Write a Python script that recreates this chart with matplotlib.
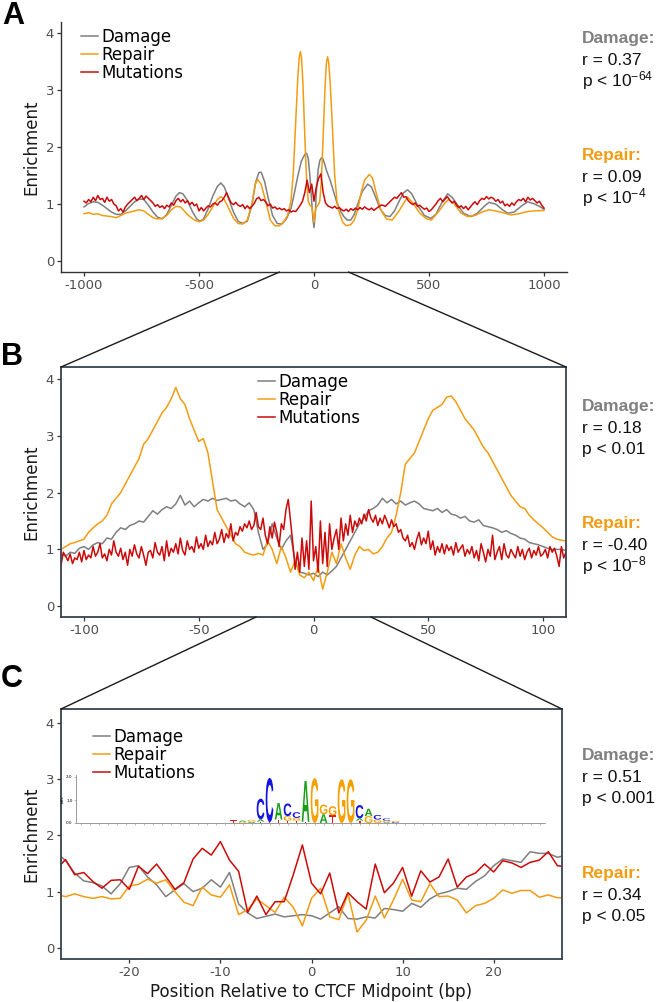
import numpy as np
import matplotlib.pyplot as plt
from matplotlib.patches import ConnectionPatch, PathPatch
from matplotlib.textpath import TextPath
from matplotlib.font_manager import FontProperties
from matplotlib.transforms import Affine2D

plt.rcParams['font.family'] = ['DejaVu Sans']
plt.rcParams['mathtext.default'] = 'regular'
plt.rcParams['axes.unicode_minus'] = False

# colours
c_damage = '#7f7f7f'
c_repair = '#f39c12'
c_mut = '#cd0a0a'
labels = ['Damage', 'Repair', 'Mutations']

# ---------------- panel A data (-1000..1000 bp) ----------------
damage_a_x = [-1000, -980, -960, -940, -920, -900, -880, -860, -840, -820,
              -800, -780, -760, -740, -720, -700, -680, -660, -640, -620,
              -600, -585, -570, -550, -530, -510, -495, -480, -460, -440,
              -420, -405, -390, -370, -350, -330, -310, -290, -270, -255,
              -240, -230, -215, -200, -180, -160, -140, -120, -100, -85,
              -70, -55, -40, -32, -25, -18, -10, -5, 0, 5,
              10, 18, 25, 32, 38, 45, 55, 70, 85, 100,
              115, 130, 145, 160, 175, 190, 210, 233, 250, 270,
              290, 310, 330, 350, 370, 390, 407, 425, 450, 480,
              508, 530, 555, 581, 600, 625, 650, 683, 710, 740,
              760, 790, 820, 842, 870, 900, 929, 960, 980, 1000]
damage_a = [0.95, 1.01, 1.04, 1.03, 0.98, 0.92, 0.86, 0.82, 0.82, 0.88,
            0.96, 1.04, 1.09, 1.08, 0.98, 0.86, 0.77, 0.74, 0.82, 0.98,
            1.14, 1.20, 1.18, 1.06, 0.88, 0.74, 0.70, 0.74, 0.92, 1.14,
            1.31, 1.37, 1.30, 1.08, 0.86, 0.70, 0.66, 0.70, 0.98, 1.36,
            1.55, 1.56, 1.40, 1.12, 0.80, 0.66, 0.65, 0.74, 0.92, 1.20,
            1.50, 1.75, 1.87, 1.89, 1.80, 1.50, 1.05, 0.75, 0.59, 0.80,
            1.20, 1.60, 1.76, 1.81, 1.80, 1.72, 1.58, 1.42, 1.22, 1.02,
            0.88, 0.78, 0.72, 0.72, 0.82, 1.00, 1.22, 1.35, 1.30, 1.10,
            0.90, 0.80, 0.78, 0.88, 1.05, 1.20, 1.25, 1.18, 0.98, 0.80,
            0.75, 0.82, 1.02, 1.18, 1.12, 0.98, 0.84, 0.78, 0.84, 0.96,
            1.03, 1.00, 0.90, 0.84, 0.86, 0.96, 1.04, 1.00, 0.96, 0.91]

repair_a_x = [-1000, -980, -960, -940, -920, -900, -880, -860, -840, -820,
              -800, -780, -760, -740, -720, -700, -680, -660, -640, -620,
              -600, -580, -560, -540, -520, -500, -480, -460, -440, -420,
              -405, -390, -370, -350, -330, -310, -290, -270, -255, -245,
              -230, -210, -190, -170, -150, -130, -115, -100, -90, -80,
              -70, -64, -59, -54, -48, -40, -32, -25, -18, -10,
              -5, 0, 5, 10, 18, 25, 32, 40, 48, 54,
              59, 64, 70, 80, 90, 100, 110, 125, 140, 160,
              175, 190, 205, 220, 241, 255, 270, 290, 315, 340,
              370, 395, 407, 430, 460, 490, 510, 540, 570, 585,
              610, 640, 668, 700, 730, 760, 790, 820, 857, 890,
              929, 960, 1000]
repair_a = [0.83, 0.85, 0.82, 0.83, 0.80, 0.79, 0.78, 0.76, 0.80, 0.84,
            0.86, 0.88, 0.90, 0.88, 0.82, 0.76, 0.74, 0.75, 0.80, 0.90,
            0.96, 0.95, 0.86, 0.78, 0.72, 0.69, 0.72, 0.82, 0.95, 1.08,
            1.13, 1.08, 0.92, 0.75, 0.66, 0.65, 0.72, 1.00, 1.35, 1.43,
            1.35, 1.05, 0.72, 0.62, 0.62, 0.70, 0.80, 1.05, 1.55, 2.40,
            3.25, 3.58, 3.67, 3.55, 3.10, 2.20, 1.40, 1.05, 0.98, 0.95,
            0.85, 0.68, 0.85, 0.95, 0.98, 1.05, 1.40, 2.20, 3.05, 3.48,
            3.58, 3.48, 3.15, 2.35, 1.50, 1.05, 0.85, 0.68, 0.62, 0.64,
            0.72, 0.90, 1.20, 1.42, 1.52, 1.45, 1.20, 0.90, 0.74, 0.72,
            0.88, 1.05, 1.12, 1.02, 0.84, 0.74, 0.72, 0.86, 1.02, 1.08,
            1.00, 0.84, 0.78, 0.80, 0.86, 0.90, 0.88, 0.85, 0.81, 0.83,
            0.87, 0.88, 0.89]

mut_a_x = np.arange(-1000, 1001, 10)
mut_a = [1.05, 1.02, 1.08, 1.04, 1.12, 1.06, 1.15, 1.08, 1.10, 1.03,
         1.12, 1.05, 1.08, 1.00, 0.97, 0.88, 0.92, 0.86, 0.95, 1.00,
         1.04, 1.08, 1.12, 1.06, 1.10, 1.15, 1.08, 1.14, 1.10, 1.06,
         1.02, 0.96, 0.99, 0.94, 0.97, 0.92, 0.98, 0.95, 1.02, 0.98,
         1.06, 1.10, 1.04, 1.08, 1.02, 1.06, 0.99, 1.03, 0.97, 1.00,
         0.88, 0.94, 0.88, 0.93, 0.97, 0.95, 1.00, 1.02, 0.98, 1.04,
         1.06, 1.12, 1.20, 1.10, 1.02, 0.99, 1.03, 0.98, 0.96, 0.99,
         0.92, 0.97, 0.92, 0.96, 1.01, 1.09, 1.12, 1.06, 1.08, 1.04,
         0.97, 1.00, 0.93, 0.95, 0.91, 0.93, 0.90, 0.92, 0.88, 0.90,
         0.86, 0.88, 0.87, 0.92, 0.98, 1.05, 1.20, 1.42, 1.20, 1.35,
         1.05, 1.30, 1.45, 1.53, 1.20, 1.02, 0.97, 0.95, 0.93, 0.96,
         0.92, 0.94, 0.90, 0.88, 0.91, 0.87, 0.92, 0.89, 0.93, 0.90,
         0.94, 0.91, 0.95, 0.92, 0.90, 0.93, 0.89, 0.92, 0.95, 0.98,
         0.98, 0.96, 1.00, 1.04, 1.08, 1.12, 1.10, 1.15, 1.20, 1.12,
         1.13, 1.06, 1.02, 0.99, 1.02, 0.96, 0.98, 0.94, 0.91, 0.93,
         0.87, 0.90, 0.95, 1.00, 1.06, 1.10, 1.04, 1.09, 1.13, 1.07,
         1.02, 1.05, 0.98, 0.94, 0.97, 0.92, 0.96, 0.90, 0.95, 1.00,
         1.04, 0.99, 1.06, 1.10, 1.08, 1.13, 1.09, 1.12, 1.10, 1.05,
         1.08, 1.02, 1.05, 0.97, 1.00, 0.96, 1.02, 0.98, 1.04, 1.08,
         1.06, 1.10, 1.04, 1.12, 1.07, 1.10, 1.06, 1.02, 1.05, 0.98,
         0.93]

# ---------------- panel B data (-110..110 bp) ----------------
b_x2 = np.arange(-110, 111, 2)
damage_b = [0.92, 0.88, 0.95, 0.93, 1.02, 1.05, 1.00, 1.08, 1.12, 1.10,
            1.20, 1.18, 1.30, 1.38, 1.35, 1.42, 1.45, 1.50, 1.48, 1.58,
            1.68, 1.62, 1.70, 1.75, 1.72, 1.80, 1.95, 1.78, 1.85, 1.75,
            1.82, 1.88, 1.85, 1.90, 1.86, 1.88, 1.90, 1.85, 1.87, 1.80,
            1.75, 1.82, 1.70, 1.30, 1.00, 1.10, 1.45, 1.20, 1.00, 1.15,
            1.25, 0.80, 0.60, 0.58, 0.55, 0.58, 0.52, 0.60, 0.55, 0.62,
            0.70, 0.85, 1.00, 1.15, 1.30, 1.45, 1.55, 1.68, 1.72, 1.78,
            1.90, 1.82, 1.88, 1.80, 1.85, 1.78, 1.82, 1.85, 1.80, 1.72,
            1.70, 1.68, 1.72, 1.65, 1.70, 1.62, 1.60, 1.55, 1.58, 1.50,
            1.48, 1.52, 1.42, 1.40, 1.38, 1.35, 1.30, 1.33, 1.28, 1.25,
            1.20, 1.18, 1.12, 1.10, 1.08, 1.05, 1.02, 1.00, 1.00, 1.00,
            0.98]
repair_b = [1.00, 1.05, 1.10, 1.12, 1.15, 1.18, 1.30, 1.38, 1.45, 1.50,
            1.60, 1.80, 1.90, 2.00, 2.15, 2.30, 2.45, 2.60, 2.85, 2.95,
            3.10, 3.25, 3.40, 3.50, 3.65, 3.85, 3.65, 3.55, 3.30, 3.10,
            2.90, 2.95, 2.70, 2.20, 1.70, 1.55, 1.40, 1.25, 1.10, 1.05,
            0.95, 0.92, 0.90, 0.93, 0.90, 1.15, 1.00, 0.75, 1.05, 0.85,
            0.60, 0.80, 0.55, 0.50, 0.60, 0.45, 0.70, 0.30, 0.60, 0.95,
            0.75, 1.10, 0.85, 0.65, 0.90, 1.05, 0.98, 1.00, 0.92, 0.95,
            1.05, 1.20, 1.30, 1.60, 2.00, 2.50, 2.60, 2.70, 2.90, 3.10,
            3.30, 3.45, 3.50, 3.55, 3.68, 3.70, 3.60, 3.45, 3.30, 3.20,
            3.10, 2.95, 2.80, 2.70, 2.55, 2.40, 2.25, 2.10, 1.95, 1.85,
            1.75, 1.72, 1.60, 1.52, 1.45, 1.38, 1.30, 1.22, 1.18, 1.16,
            1.15]
b_x1 = np.arange(-110, 111, 1)
mut_b = [0.72, 0.95, 0.88, 0.80, 0.92, 0.75, 0.85, 0.82, 0.95, 0.78,
         0.98, 0.82, 0.90, 0.85, 1.05, 0.88, 0.95, 1.10, 0.85, 0.92,
         0.80, 1.00, 0.90, 1.15, 0.95, 0.88, 1.02, 0.82, 0.95, 0.72,
         1.00, 0.88, 1.08, 0.92, 0.85, 1.05, 0.90, 0.72, 0.95, 0.98,
         0.85, 1.12, 0.95, 0.90, 1.05, 0.80, 1.15, 0.88, 1.02, 0.95,
         1.10, 0.92, 1.20, 0.98, 0.90, 1.15, 1.00, 1.05, 0.95, 1.22,
         1.02, 1.10, 1.00, 1.25, 1.05, 1.15, 1.08, 1.30, 1.10, 1.18,
         1.35, 1.12, 1.28, 1.20, 1.45, 1.15, 1.30, 1.25, 1.40, 1.32,
         1.45, 1.38, 1.50, 1.35, 1.42, 1.65, 1.40, 1.35, 1.55, 1.25,
         1.10, 1.40, 1.20, 1.48, 1.30, 1.05, 1.45, 1.35, 1.70, 1.88,
         1.50, 1.10, 0.65, 0.95, 0.60, 1.20, 0.70, 1.15, 0.65, 1.85,
         0.80, 1.05, 0.60, 1.50, 0.75, 1.30, 0.70, 1.45, 1.00, 1.20,
         1.35, 1.00, 1.55, 1.15, 1.45, 1.25, 1.60, 1.30, 1.50, 1.40,
         1.55, 1.45, 1.62, 1.50, 1.70, 1.55, 1.48, 1.60, 1.42, 1.55,
         1.45, 1.60, 1.50, 1.38, 1.52, 1.40, 1.45, 1.30, 1.35, 1.20,
         1.15, 1.25, 1.05, 1.12, 1.00, 1.18, 1.30, 1.08, 1.20, 1.10,
         1.32, 1.00, 1.15, 0.90, 1.05, 0.95, 1.10, 0.92, 1.08, 0.98,
         1.05, 0.90, 1.12, 0.95, 1.02, 1.08, 0.88, 1.00, 0.92, 1.05,
         0.85, 0.98, 0.80, 1.10, 0.95, 0.78, 1.00, 0.88, 1.25, 0.82,
         0.95, 1.05, 0.82, 1.10, 0.90, 0.85, 1.00, 0.92, 0.85, 1.05,
         0.88, 1.00, 0.82, 0.95, 1.02, 0.85, 0.98, 0.90, 1.05, 0.88,
         0.92, 1.00, 0.85, 1.05, 0.95, 1.02, 0.88, 0.70, 1.05, 0.85,
         0.95]

# ---------------- panel C data (-28..28 bp) ----------------
c_x = np.arange(-28, 29)
damage_c = [1.70, 1.55, 1.33, 1.19, 1.16, 1.10, 0.96, 1.14, 1.43, 1.46,
            1.26, 1.12, 0.91, 1.03, 1.14, 1.00, 1.06, 1.21, 1.08, 1.34,
            0.78, 0.62, 0.52, 0.56, 0.60, 0.55, 0.57, 0.59, 0.57, 0.51,
            0.62, 0.73, 0.52, 0.51, 0.55, 0.53, 0.70, 0.68, 0.65, 0.79,
            0.72, 0.87, 0.96, 1.00, 1.06, 1.04, 1.18, 1.28, 1.46, 1.58,
            1.55, 1.52, 1.71, 1.68, 1.68, 1.61, 1.65]
repair_c = [0.95, 0.91, 0.96, 0.91, 0.88, 0.91, 0.87, 0.88, 1.10, 1.13,
            1.22, 1.15, 1.21, 1.00, 0.81, 0.75, 1.08, 0.94, 0.90, 1.12,
            0.59, 0.68, 0.87, 0.75, 0.63, 0.90, 0.72, 0.39, 0.88, 1.06,
            0.55, 0.50, 0.96, 0.28, 0.49, 0.92, 0.53, 0.85, 1.22, 0.85,
            0.82, 1.14, 0.91, 0.92, 0.85, 0.62, 0.75, 0.79, 0.88, 1.03,
            0.97, 1.02, 1.02, 0.90, 0.94, 0.89, 0.89]
mut_c = [1.40, 1.57, 1.30, 1.34, 1.18, 1.06, 1.20, 1.21, 1.04, 1.45,
         1.32, 1.49, 1.27, 1.04, 1.16, 1.58, 1.77, 1.65, 1.89, 1.56,
         1.36, 0.63, 0.92, 0.59, 0.82, 0.82, 1.30, 1.83, 1.15, 0.96,
         1.33, 0.62, 0.98, 0.82, 0.69, 1.49, 0.98, 1.15, 1.43, 0.92,
         1.37, 1.17, 1.26, 1.58, 1.08, 1.26, 1.33, 1.49, 1.35, 1.55,
         1.51, 1.43, 1.52, 1.56, 1.71, 1.46, 1.44]

# CTCF motif logo (position, letters bottom->top, bits)
logo_pos = [18, 19, 20, 21, 22, 23, 24, 25, 26, 27, 28, 29, 30, 31, 32, 33, 34, 35, 36]
logo_letters = ['T', 'GA', 'AG', 'TAC', 'TC', 'TA', 'TGC', 'TGC', 'TA', 'G',
                'AG', 'TG', 'G', 'G', 'TAC', 'GA', 'GC', 'AGC', 'CG']
logo_bits = [[0.12], [0.05, 0.06], [0.05, 0.09], [0.06, 0.1, 0.9], [0.04, 1.92],
             [0.15, 0.72], [0.1, 0.2, 0.55], [0.1, 0.12, 0.25], [0.05, 1.78], [1.95],
             [0.38, 0.42], [0.33, 0.4], [1.9], [1.9], [0.1, 0.1, 0.58],
             [0.3, 0.32], [0.15, 0.2], [0.04, 0.06, 0.1], [0.04, 0.05]]
base_colors = {'A': '#17a017', 'C': '#1414e0', 'G': '#f5a000', 'T': '#e01a1a'}

# statistics text
stat_r = [['0.37', '0.09'], ['0.18', '-0.40'], ['0.51', '0.34']]
stat_p = [['10$^{-64}$', '10$^{-4}$'], ['0.01', '10$^{-8}$'], ['0.001', '0.05']]
stat_base = [[43, 160], [411, 528], [760, 878]]

# ---------------- layout ----------------
W, H = 659, 1002
fig = plt.figure(figsize=(W / 100, H / 100), dpi=100)


def px_axes(l, t, r, b):
    return fig.add_axes([l / W, 1 - b / H, (r - l) / W, (b - t) / H])


axA = px_axes(61, 22, 567, 272)
axB = px_axes(61, 367, 566, 617)
axC = px_axes(61, 709, 562, 959)


def style(ax, box):
    for s in ax.spines.values():
        s.set_color('#36434d' if box else '#333333')
        s.set_linewidth(1.3 if box else 1.0)
    if not box:
        ax.spines['top'].set_visible(False)
        ax.spines['right'].set_visible(False)
    ax.tick_params(length=3, width=0.9, color='#333333', labelsize=9.5,
                   labelcolor='#4d4d4d', pad=2)
    ax.set_yticks([0, 1, 2, 3, 4])
    ax.set_ylabel('Enrichment', fontsize=12, color='#1a1a1a', labelpad=4)


lw = 1.1
axA.plot(damage_a_x, damage_a, color=c_damage, lw=lw, label=labels[0])
axA.plot(repair_a_x, repair_a, color=c_repair, lw=lw, label=labels[1])
axA.plot(mut_a_x, mut_a, color=c_mut, lw=lw, label=labels[2])
axA.set_xlim(-1100, 1100)
axA.set_ylim(-0.19, 4.19)
axA.set_xticks([-1000, -500, 0, 500, 1000])
style(axA, False)

axB.plot(b_x2, damage_b, color=c_damage, lw=lw, label=labels[0])
axB.plot(b_x2, repair_b, color=c_repair, lw=lw, label=labels[1])
axB.plot(b_x1, mut_b, color=c_mut, lw=lw, label=labels[2])
axB.set_xlim(-110, 110)
axB.set_ylim(-0.19, 4.21)
axB.set_xticks([-100, -50, 0, 50, 100])
style(axB, True)

axC.plot(c_x, damage_c, color=c_damage, lw=lw, label=labels[0])
axC.plot(c_x, repair_c, color=c_repair, lw=lw, label=labels[1])
axC.plot(c_x, mut_c, color=c_mut, lw=lw, label=labels[2])
axC.set_xlim(-27.5, 27.5)
axC.set_ylim(-0.2, 4.25)
axC.set_xticks([-20, -10, 0, 10, 20])
style(axC, True)
axC.set_xlabel('Position Relative to CTCF Midpoint (bp)', fontsize=12,
               color='#1a1a1a', labelpad=3)

for ax, anchor in [(axA, (0.04, 0.975)), (axB, (0.39, 0.975)), (axC, (0.064, 0.926))]:
    ax.legend(loc='upper left', bbox_to_anchor=anchor, frameon=False, fontsize=12,
              borderaxespad=0, borderpad=0, handlelength=1.0, handletextpad=0.2,
              labelspacing=0.0)

# zoom connector lines
for xa, xb in [(-150, 0), (150, 1)]:
    fig.add_artist(ConnectionPatch(xyA=(xa, -0.19), coordsA=axA.transData,
                                   xyB=(xb, 1), coordsB=axB.transAxes,
                                   color='#1a1a1a', lw=1.0))
for xa, xb in [(-25, 0), (25, 1)]:
    fig.add_artist(ConnectionPatch(xyA=(xa, -0.19), coordsA=axB.transData,
                                   xyB=(xb, 1), coordsB=axC.transAxes,
                                   color='#1a1a1a', lw=1.0))

# motif logo inset
axL = fig.add_axes([76 / W, 1 - 823 / H, 469 / W, 48.3 / H])
axL.set_facecolor('none')
axL.set_xlim(0.5, 52.6)
axL.set_ylim(0, 2.1)
for s in ['top', 'right']:
    axL.spines[s].set_visible(False)
for s in ['left', 'bottom']:
    axL.spines[s].set_color('#8c8c8c')
    axL.spines[s].set_linewidth(0.6)
axL.set_xticks(np.arange(1, 53))
axL.set_xticklabels([])
axL.set_yticks([0, 1, 2])
axL.set_yticklabels(['0.0', '1.0', '2.0'])
axL.tick_params(length=1.5, width=0.4, color='#8c8c8c', labelsize=3, pad=1)
axL.set_ylabel('bits', fontsize=3, labelpad=1)

fp = FontProperties(family='Liberation Sans', weight='bold')
for pos, letters, bits in zip(logo_pos, logo_letters, logo_bits):
    y0 = 0
    for letter, h in zip(letters, bits):
        tp = TextPath((0, 0), letter, size=1, prop=fp)
        bb = tp.get_extents()
        tr = (Affine2D().translate(-bb.x0, -bb.y0)
              .scale(0.86 / bb.width, h / bb.height)
              .translate(pos - 0.43, y0))
        axL.add_patch(PathPatch(tr.transform_path(tp), facecolor=base_colors[letter], lw=0))
        y0 += h

# statistics text on the right
for i in range(3):
    for j, (name, col) in enumerate([('Damage:', '#808080'), ('Repair:', c_repair)]):
        yb = stat_base[i][j]
        fig.text(582 / W, 1 - yb / H, name, color=col, fontweight='bold',
                 family='Liberation Sans', fontsize=12.5, va='baseline')
        fig.text(582 / W, 1 - (yb + 22) / H, 'r = ' + stat_r[i][j], color='#111111',
                 family='Liberation Sans', fontsize=12.5, va='baseline')
        fig.text(582 / W, 1 - (yb + 43) / H, 'p < ' + stat_p[i][j], color='#111111',
                 family='Liberation Sans', fontsize=12.5, va='baseline')

# panel letters
for letter, (x, y) in zip(['A', 'B', 'C'], [(13, 16), (12, 357), (12, 679)]):
    fig.text(x / W, 1 - y / H, letter, fontsize=22, fontweight='bold',
             family='Liberation Sans', ha='center', va='center')

plt.savefig('out.png', dpi=100)
